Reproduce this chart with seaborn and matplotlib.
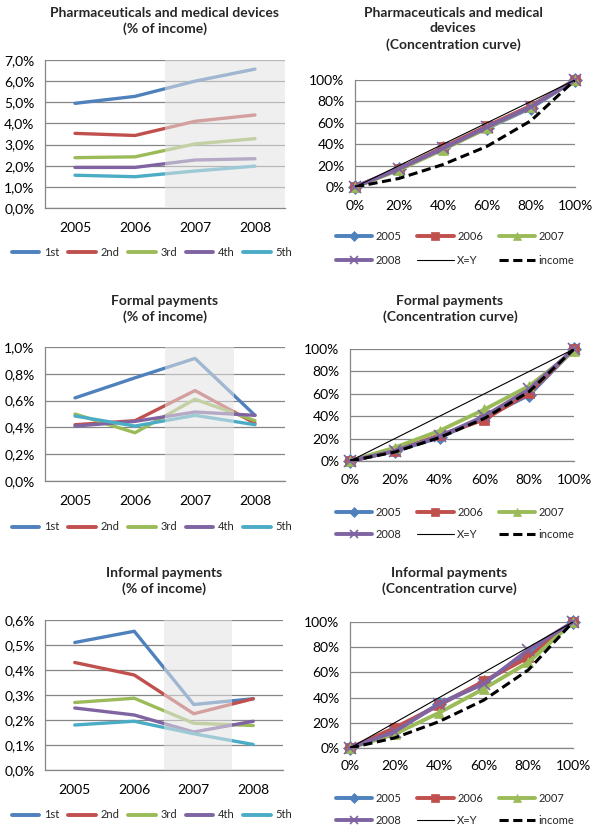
import matplotlib
matplotlib.use("Agg")
import matplotlib.pyplot as plt
import matplotlib.ticker as mticker
import seaborn as sns
import pandas as pd

# ---- data ----
years = ["2005", "2006", "2007", "2008"]
quintiles = ["1st", "2nd", "3rd", "4th", "5th"]

pharma_share = {
    "1st": [4.95, 5.28, 6.00, 6.57],
    "2nd": [3.53, 3.43, 4.10, 4.40],
    "3rd": [2.38, 2.42, 3.03, 3.28],
    "4th": [1.92, 1.92, 2.27, 2.33],
    "5th": [1.55, 1.48, 1.75, 1.98],
}
formal_share = {
    "1st": [0.62, 0.77, 0.915, 0.49],
    "2nd": [0.42, 0.45, 0.675, 0.43],
    "3rd": [0.50, 0.36, 0.61, 0.45],
    "4th": [0.41, 0.445, 0.515, 0.49],
    "5th": [0.485, 0.41, 0.49, 0.42],
}
informal_share = {
    "1st": [0.51, 0.555, 0.262, 0.285],
    "2nd": [0.43, 0.38, 0.225, 0.285],
    "3rd": [0.27, 0.287, 0.187, 0.178],
    "4th": [0.248, 0.22, 0.152, 0.195],
    "5th": [0.18, 0.195, 0.145, 0.102],
}

pop_share = [0, 20, 40, 60, 80, 100]
income_cc = [0, 8, 21, 38, 62, 100]
pharma_cc = {
    "2005": [0, 17, 36, 55, 74, 100],
    "2006": [0, 17, 37, 57, 76, 100],
    "2007": [0, 16, 35, 55, 75, 100],
    "2008": [0, 17, 36, 56, 75, 100],
}
formal_cc = {
    "2005": [0, 9, 21, 39, 59, 100],
    "2006": [0, 9, 23, 37, 61, 100],
    "2007": [0, 12, 27, 46, 67, 98],
    "2008": [0, 9, 22, 40, 64, 100],
}
informal_cc = {
    "2005": [0, 14, 35, 52, 74, 100],
    "2006": [0, 16, 34, 53, 72, 100],
    "2007": [0, 11, 28, 47, 68, 100],
    "2008": [0, 13, 35, 51, 78, 100],
}

q_colors = ["#4F81BD", "#C0504D", "#9BBB59", "#8064A2", "#4BACC6"]
y_markers = {"2005": "D", "2006": "s", "2007": "^", "2008": "x"}
y_colors = dict(zip(years, q_colors[:4]))

sns.set_style("white")
plt.rcParams["font.family"] = ["Lato", "DejaVu Sans"]

fig = plt.figure(figsize=(6, 8.25), dpi=100)


def box(l, t, r, b):
    return [l / 600, 1 - b / 825, (r - l) / 600, (b - t) / 825]


def style_axes(ax):
    for s in ["top", "right"]:
        ax.spines[s].set_visible(False)
    for s in ["left", "bottom"]:
        ax.spines[s].set_color("#868686")
        ax.spines[s].set_linewidth(0.9)
    ax.grid(axis="y", color="#868686", lw=0.9)
    ax.grid(axis="x", visible=False)
    ax.set_axisbelow(True)
    ax.tick_params(axis="both", labelsize=10, colors="#868686", labelcolor="black",
                   length=4, width=0.9, direction="out")
    ax.set_xlabel("")
    ax.set_ylabel("")


def title(cx, ty, text):
    fig.text(cx / 600, 1 - ty / 825, text, ha="center", va="top", fontsize=10,
             fontweight="bold", linespacing=1.35)


def share_panel(rect, data, ymax, ystep, shade_to, text, title_y, leg_y):
    ax = fig.add_axes(box(*rect))
    df = pd.DataFrame(
        [(i, q, v) for q in quintiles for i, v in enumerate(data[q])],
        columns=["year", "quintile", "share"],
    )
    sns.lineplot(data=df, x="year", y="share", hue="quintile", palette=q_colors,
                 lw=2.4, ax=ax, legend=True)
    # shaded (projected) years drawn over the lines, like the original
    ax.axvspan(1.5, shade_to, facecolor="#e3e3e3", edgecolor="none", alpha=0.55, zorder=5)
    ax.set_xlim(-0.5, 3.5)
    ax.set_ylim(0, ymax)
    ax.set_yticks([ystep * k for k in range(int(round(ymax / ystep)) + 1)])
    ax.yaxis.set_major_formatter(mticker.FuncFormatter(lambda v, p: ("%.1f" % v).replace(".", ",") + "%"))
    ax.set_xticks(range(4))
    ax.set_xticklabels(years)
    ax.xaxis.set_minor_locator(mticker.FixedLocator([-0.5, 0.5, 1.5, 2.5, 3.5]))
    style_axes(ax)
    ax.tick_params(axis="x", which="major", length=0, pad=10)
    ax.tick_params(axis="x", which="minor", length=5, width=0.9, colors="#868686")
    h, l = ax.get_legend_handles_labels()
    ax.get_legend().remove()
    leg = fig.legend(h, l, loc="center", bbox_to_anchor=(152 / 600, 1 - leg_y / 825),
                     ncol=5, frameon=False, fontsize=8, handlelength=2.5,
                     handletextpad=0.4, columnspacing=0.8)
    for ln in leg.get_lines():
        ln.set_linewidth(2.8)
    title((rect[0] + rect[2]) / 2, title_y, text)
    return ax


def cc_panel(rect, data, text, title_y, leg_y, leg_sp):
    ax = fig.add_axes(box(*rect))
    for yr in years:
        d = pd.DataFrame({"p": pop_share, "c": data[yr]})
        sns.lineplot(data=d, x="p", y="c", color=y_colors[yr], lw=2.8, marker=y_markers[yr],
                     markersize=7 if yr != "2008" else 8, markeredgewidth=1.2 if yr == "2008" else 0.5,
                     markeredgecolor=y_colors[yr], label=yr, ax=ax, clip_on=False, zorder=3)
    sns.lineplot(x=pop_share, y=pop_share, color="black", lw=0.8, label="X=Y", ax=ax, zorder=4)
    sns.lineplot(x=pop_share, y=income_cc, color="black", lw=2.2, ls=(0, (3, 1.5)),
                 label="income", ax=ax, zorder=4)
    ax.set_xlim(0, 100)
    ax.set_ylim(0, 100)
    ax.set_xticks(pop_share)
    ax.set_yticks(pop_share)
    pct = mticker.FuncFormatter(lambda v, p: "%d%%" % v)
    ax.xaxis.set_major_formatter(pct)
    ax.yaxis.set_major_formatter(pct)
    style_axes(ax)
    ax.tick_params(axis="x", pad=5)
    h, l = ax.get_legend_handles_labels()
    ax.get_legend().remove()
    order = [0, 3, 1, 4, 2, 5]  # row-wise fill for 3 columns
    fig.legend([h[i] for i in order], [l[i] for i in order], loc="upper center",
               bbox_to_anchor=(455 / 600, 1 - leg_y / 825), ncol=3, frameon=False,
               fontsize=8, handlelength=3.3, handletextpad=0.3, columnspacing=1.4,
               labelspacing=leg_sp, markerscale=0.75)
    title((rect[0] + rect[2]) / 2 - 12, title_y, text)
    return ax


share_panel((45, 60, 285, 208), pharma_share, 7.0, 1.0, 3.5,
            "Pharmaceuticals and medical devices\n(% of income)", 7, 252)
share_panel((45, 347, 285, 481), formal_share, 1.0, 0.2, 2.65,
            "Formal payments\n(% of income)", 295, 527)
share_panel((45, 620, 283, 770), informal_share, 0.6, 0.1, 2.65,
            "Informal payments\n(% of income)", 567, 815)

cc_panel((355, 80, 575, 187), pharma_cc,
         "Pharmaceuticals and medical\ndevices\n(Concentration curve)", 7, 221, 1.2)
cc_panel((350, 349, 574, 461), formal_cc,
         "Formal payments\n(Concentration curve)", 295, 497, 1.0)
cc_panel((350, 622, 573, 748), informal_cc,
         "Informal payments\n(Concentration curve)", 567, 783, 1.0)

fig.savefig("out.png", dpi=100)
